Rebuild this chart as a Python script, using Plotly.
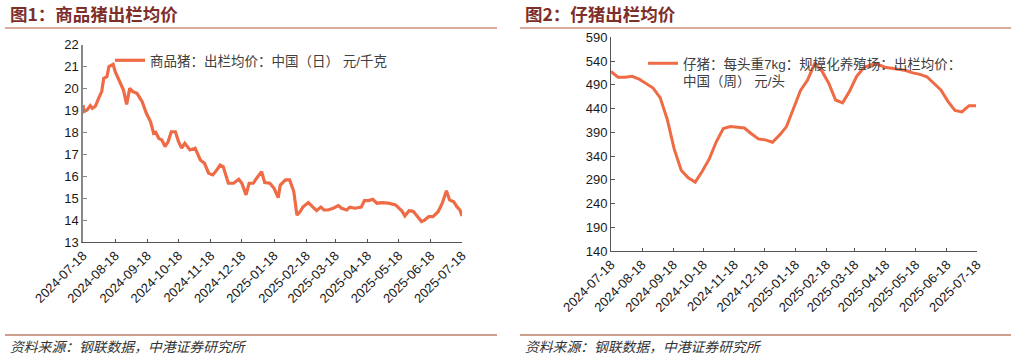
import plotly.graph_objects as go
import pandas as pd

# ---------------- data ----------------
PIG_DATES = [
    "2024-07-18", "2024-07-19", "2024-07-22", "2024-07-25", "2024-07-27", "2024-07-30",
    "2024-08-02", "2024-08-05", "2024-08-07", "2024-08-10", "2024-08-12", "2024-08-16",
    "2024-08-18", "2024-08-21", "2024-08-23", "2024-08-26", "2024-08-29", "2024-09-01",
    "2024-09-04", "2024-09-08", "2024-09-13", "2024-09-17", "2024-09-21", "2024-09-24",
    "2024-09-26", "2024-09-29", "2024-10-02", "2024-10-05", "2024-10-08", "2024-10-11",
    "2024-10-15", "2024-10-18", "2024-10-21", "2024-10-24", "2024-10-29", "2024-11-03",
    "2024-11-08", "2024-11-12", "2024-11-16", "2024-11-20", "2024-11-24", "2024-11-27",
    "2024-11-30", "2024-12-05", "2024-12-10", "2024-12-15", "2024-12-18", "2024-12-22",
    "2024-12-25", "2024-12-29", "2025-01-01", "2025-01-06", "2025-01-09", "2025-01-14",
    "2025-01-18", "2025-01-22", "2025-01-24", "2025-01-29", "2025-02-02", "2025-02-06",
    "2025-02-09", "2025-02-12", "2025-02-15", "2025-02-20", "2025-02-24", "2025-02-28",
    "2025-03-04", "2025-03-07", "2025-03-11", "2025-03-16", "2025-03-21", "2025-03-24",
    "2025-03-29", "2025-04-01", "2025-04-06", "2025-04-12", "2025-04-15", "2025-04-19",
    "2025-04-23", "2025-04-27", "2025-05-02", "2025-05-08", "2025-05-15", "2025-05-18",
    "2025-05-21", "2025-05-24", "2025-05-28", "2025-06-01", "2025-06-05", "2025-06-09",
    "2025-06-12", "2025-06-16", "2025-06-20", "2025-06-25", "2025-06-29", "2025-07-03",
    "2025-07-06", "2025-07-10", "2025-07-13", "2025-07-16", "2025-07-18",
]
PIG_PRICES = [
    19.25, 18.95, 19.02, 19.22, 19.10, 19.20,
    19.55, 19.86, 20.47, 20.54, 21.00, 21.10,
    20.77, 20.47, 20.24, 19.93, 19.28, 20.01,
    19.86, 19.78, 19.40, 18.87, 18.49, 17.96,
    18.00, 17.73, 17.65, 17.35, 17.58, 18.03,
    18.03, 17.58, 17.28, 17.50, 17.20, 17.28,
    16.74, 16.59, 16.14, 16.06, 16.29, 16.51,
    16.44, 15.68, 15.68, 15.86, 15.68, 15.15,
    15.68, 15.68, 15.90, 16.21, 15.71, 15.68,
    15.45, 15.02, 15.60, 15.83, 15.83, 15.30,
    14.23, 14.38, 14.61, 14.80, 14.61, 14.43,
    14.59, 14.46, 14.46, 14.54, 14.66, 14.54,
    14.46, 14.59, 14.54, 14.59, 14.89, 14.89,
    14.95, 14.77, 14.80, 14.77, 14.69, 14.54,
    14.42, 14.19, 14.43, 14.40, 14.16, 13.93,
    14.00, 14.16, 14.16, 14.38, 14.77, 15.34,
    14.92, 14.84, 14.61, 14.46, 14.19,
]

PIGLET_FIRST_WEEK = "2024-07-18"
PIGLET_PRICES = [
    518, 506, 506, 508, 502, 492, 483, 463, 418, 355,
    310, 294, 285, 308, 334, 370, 398, 402, 400, 399,
    387, 376, 374, 369, 384, 402, 440, 478, 500, 534,
    520, 494, 458, 452, 477, 508, 526, 532, 533, 527,
    525, 523, 520, 515, 512, 507, 494, 479, 455, 436,
    433, 446, 446,
]
PIGLET_DATES = list(pd.date_range(PIGLET_FIRST_WEEK, periods=len(PIGLET_PRICES), freq="7D"))

TICK_DATES = [
    "2024-07-18", "2024-08-18", "2024-09-18", "2024-10-18", "2024-11-18",
    "2024-12-18", "2025-01-18", "2025-02-18", "2025-03-18", "2025-04-18",
    "2025-05-18", "2025-06-18", "2025-07-18",
]
LEFT_Y_TICKS = [13, 14, 15, 16, 17, 18, 19, 20, 21, 22]
RIGHT_Y_TICKS = [140, 190, 240, 290, 340, 390, 440, 490, 540, 590]

TITLE_1 = "图1：商品猪出栏均价"
TITLE_2 = "图2：仔猪出栏均价"
SOURCE = "资料来源：钢联数据，中港证券研究所"
NAME_1 = "商品猪：出栏均价：中国（日） 元/千克"
NAME_2 = "仔猪：每头重7kg：规模化养殖场：出栏均价：<br>中国（周） 元/头"

# ---------------- styling ----------------
W, H = 1017, 357
LINE = "#EE6B45"
TITLE_C = "#7E2F2A"
RULE_C = "#B9583A"
FONT = "Liberation Sans, Arial, Noto Sans CJK SC, sans-serif"
CJK = "Noto Sans CJK SC, sans-serif"


def fx(p):
    return p / W


def fy(p):
    return 1 - p / H


fig = go.Figure()
fig.add_trace(go.Scatter(
    x=PIG_DATES, y=PIG_PRICES, mode="lines", name=NAME_1,
    line=dict(color=LINE, width=3.2), xaxis="x", yaxis="y", legend="legend",
))
fig.add_trace(go.Scatter(
    x=PIGLET_DATES, y=PIGLET_PRICES, mode="lines", name=NAME_2,
    line=dict(color=LINE, width=3), xaxis="x2", yaxis="y2", legend="legend2",
))

xcommon = dict(
    type="date", range=["2024-07-18", "2025-07-18"], automargin=False,
    tickmode="array", tickvals=TICK_DATES, ticktext=TICK_DATES, tickangle=-45,
    ticks="inside", ticklen=3, tickcolor="#555", showline=True,
    linecolor="#555", linewidth=1, showgrid=False, zeroline=False,
    tickfont=dict(family=FONT, size=13, color="#1a1a1a"),
)
ycommon = dict(
    automargin=False, tickmode="array", ticks="inside", ticklen=4,
    showline=True, showgrid=False, zeroline=False, ticklabeloverflow="allow",
    tickfont=dict(family=FONT, size=13, color="#1a1a1a"),
)
fig.update_layout(
    template="none",
    width=W, height=H, autosize=False,
    margin=dict(l=0, r=0, t=0, b=0, pad=0),
    paper_bgcolor="white", plot_bgcolor="white",
    xaxis=dict(domain=[fx(83), fx(462)], anchor="y", **xcommon),
    xaxis2=dict(domain=[fx(611), fx(977)], anchor="y2", **xcommon),
    yaxis=dict(
        domain=[fy(242), fy(44.7)], anchor="x", range=[13, 22],
        tickvals=LEFT_Y_TICKS, tickcolor="#888", linecolor="#888", linewidth=1.5,
        **ycommon,
    ),
    yaxis2=dict(
        domain=[fy(251), fy(37.3)], anchor="x2", range=[140, 590],
        tickvals=RIGHT_Y_TICKS, tickcolor="#555", linecolor="#555", linewidth=1,
        **ycommon,
    ),
    legend=dict(
        x=fx(110), y=fy(45), xanchor="left", yanchor="top",
        bgcolor="rgba(0,0,0,0)", font=dict(family=FONT, size=13.5, color="#404040"),
    ),
    legend2=dict(
        x=fx(643), y=fy(48), xanchor="left", yanchor="top", valign="top",
        bgcolor="rgba(0,0,0,0)", font=dict(family=FONT, size=13.5, color="#404040"),
    ),
    showlegend=True,
)

# titles, rules and sources
for x0, x1, title in [(5, 497, TITLE_1), (520, 1011, TITLE_2)]:
    fig.add_annotation(
        xref="paper", yref="paper", x=fx(x0 + 3), y=fy(14), xanchor="left", yanchor="middle",
        text="<b>" + title + "</b>", showarrow=False,
        font=dict(family=CJK, size=17.5, color=TITLE_C),
    )
    fig.add_annotation(
        xref="paper", yref="paper", x=fx(x0 + 3), y=fy(346), xanchor="left", yanchor="middle",
        text="<i>" + SOURCE + "</i>", showarrow=False,
        font=dict(family=CJK, size=13.8, color="#333"),
    )
    fig.add_shape(type="line", xref="paper", yref="paper", x0=fx(x0), x1=fx(x1),
                  y0=fy(28), y1=fy(28), line=dict(color=RULE_C, width=1.2))
    fig.add_shape(type="line", xref="paper", yref="paper", x0=fx(x0), x1=fx(x1),
                  y0=fy(335), y1=fy(335), line=dict(color="#A0401E", width=1.2))

fig.write_html(
    "out.html",
    config={"displayModeBar": False},
    post_script="document.body.style.margin='0';document.body.style.padding='0';",
)
